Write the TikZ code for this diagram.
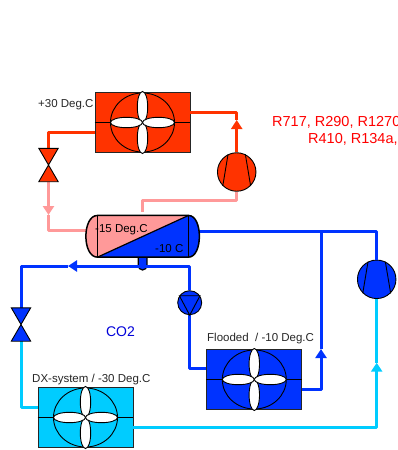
\documentclass[tikz,border=0pt]{standalone}
\usepackage{fontspec}
\setmainfont{Liberation Sans}
\usetikzlibrary{arrows.meta}

\definecolor{hotred}{RGB}{255,51,0}
\definecolor{warmpink}{RGB}{255,153,153}
\definecolor{coolblue}{RGB}{0,51,255}
\definecolor{coldcyan}{RGB}{0,204,255}

\tikzset{
	pipe/.style={line width=3pt,line join=round,>={Triangle[length=9pt,width=11pt]}},
	fanbox/.style={draw=black!85,line width=0.9pt,rectangle,minimum width=95pt,minimum height=60pt,inner sep=0pt},
	compr/.style={draw=black,line width=0.9pt,circle,minimum size=38.5pt,inner sep=0pt},
	pumpc/.style={draw=black,line width=0.9pt,circle,minimum size=24pt,inner sep=0pt},
	valvec/.style={rectangle,minimum width=19pt,minimum height=33pt,inner sep=0pt},
	lbl/.style={font=\fontsize{11.5pt}{13pt}\selectfont,text=black!85,inner sep=0pt}
}

% heat exchanger with fan
\newcommand{\fanparts}[1]{
	\draw[line width=0.9pt] (#1.west) -- (#1.east);
	\draw[line width=0.9pt] (#1.center) ellipse (32pt and 29.5pt);
	\draw[line width=0.9pt,fill=white] ([yshift=15.5pt]#1.center) ellipse (5.2pt and 15.5pt);
	\draw[line width=0.9pt,fill=white] ([yshift=-15.5pt]#1.center) ellipse (5.2pt and 15.5pt);
	\draw[line width=0.9pt,fill=white] ([xshift=16pt]#1.center) ellipse (16pt and 5.2pt);
	\draw[line width=0.9pt,fill=white] ([xshift=-16pt]#1.center) ellipse (16pt and 5.2pt);
}
\newcommand{\comprparts}[1]{
	\draw[line width=0.9pt] (#1.116) -- (#1.225);
	\draw[line width=0.9pt] (#1.64) -- (#1.315);
}
\newcommand{\valveparts}[2]{
	\draw[line width=0.9pt,fill=#2] (#1.north west) -- (#1.north east) -- (#1.south west) -- (#1.south east) -- cycle;
}

\begin{document}
\begin{tikzpicture}[x=1pt,y=-1pt,node distance=113.8pt]

\clip (0,0) rectangle (397,450);

\node[fanbox,fill=hotred]   (cond) at (142.5,122.5) {};
\node[compr,fill=hotred]   (compR) at (236.7,172) {};
\node[valvec]   (valveR) at (48.5,165) {};
\node[rectangle,minimum width=113pt,minimum height=41.3pt,inner sep=0pt]   (rcv)[below of=cond] {};
\node[pumpc,fill=coolblue]   (pump) at (189.7,302.7) {};
\node[valvec]   (valveB) at (21,324.5) {};
\node[fanbox,fill=coolblue]   (flood) at (254.3,379.5) {};
\node[fanbox,fill=coldcyan]   (dx) at (85.5,417.5) {};
\node[compr,fill=coolblue]   (compB) at (376.7,279.3) {};

\coordinate (tipRup) at (236.7,120);
\coordinate (topR) at (236.7,112);
\coordinate (tipPink) at (48.5,215);
\coordinate (tipLeft) at (68,266);
\coordinate (tipFlood) at (321,349);
\coordinate (tipCyan) at (376.7,362.7);
\coordinate (dome) at (142.5,212);
\coordinate (suct) at (321,231.7);
\coordinate (turnR) at (142.5,200.7);

% pipes
\draw[pipe,hotred] ([yshift=10.5pt]cond.east) -- (topR) -- (tipRup);
\draw[pipe,hotred,->] (compR.north) -- (tipRup);
\draw[pipe,hotred] ([yshift=-9.5pt]cond.west) -| (valveR.north);
\draw[pipe,warmpink,->] (valveR.south) -- (tipPink);
\draw[pipe,warmpink] (tipPink) |- ([yshift=6.3pt]rcv.west);
\draw[pipe,warmpink] (compR.south) |- (turnR) -- (dome);
\draw[pipe,coolblue] ([yshift=4.6pt]rcv.east) -| (compB.north);
\draw[pipe,coolblue] (pump.south) |- ([yshift=11.5pt]flood.west);
\draw[pipe,coolblue,->] ([yshift=-9.5pt]flood.east) -| (tipFlood);
\draw[pipe,coolblue] (tipFlood) -- (suct);
\draw[pipe,coldcyan] (valveB.south) |- ([yshift=10.5pt]dx.west);
\draw[pipe,coldcyan,->] ([yshift=-10.2pt]dx.east) -| (tipCyan);
\draw[pipe,coldcyan] (tipCyan) -- (compB.south);

% vessel studs
\draw[line width=0.9pt,fill=warmpink] (137,216) arc (180:0:5.5 and 5.3) -- cycle;
\draw[line width=1.2pt,fill=coolblue] (138.3,257) -- (138.3,265.5) arc (180:0:4.3 and 4.5) -- (147,257) -- cycle;
\draw[pipe,coolblue,->] (pump.north) |- (tipLeft);
\draw[pipe,coolblue] (tipLeft) -| (valveB.north);

% separator vessel
\coordinate (rtl) at ([xshift=11.7pt]rcv.north west);
\coordinate (rbl) at ([xshift=11.7pt]rcv.south west);
\coordinate (rtr) at ([xshift=-10.7pt]rcv.north east);
\coordinate (rbr) at ([xshift=-10.7pt]rcv.south east);
\fill[warmpink] (rbl) .. controls +(-15.5,0) and +(-15.5,0) .. (rtl) -- (rtr) -- cycle;
\fill[coolblue] (rtr) .. controls +(14.5,0) and +(14.5,0) .. (rbr) -- (rbl) -- cycle;
\draw[line width=1.5pt,line join=round] (rbl) .. controls +(-15.5,0) and +(-15.5,0) .. (rtl) -- (rtr) .. controls +(14.5,0) and +(14.5,0) .. (rbr) -- cycle;
\draw[line width=1.2pt] (rtl) -- (rbl);
\draw[line width=1.2pt] (rtr) -- (rbr);
\draw[line width=1.2pt] (rbl) -- (rtr);

\fanparts{cond}
\fanparts{flood}
\fanparts{dx}
\comprparts{compR}
\comprparts{compB}
\valveparts{valveR}{hotred}
\valveparts{valveB}{coolblue}
\draw[line width=0.9pt] (pump.146) -- (pump.34) -- (pump.south) -- cycle;

\node[lbl,anchor=west] (tCond) at (38,104.5) {+30 Deg.C};
\node[lbl,anchor=west,text=black] (tMid) at (95,229.5) {-15 Deg.C};
\node[lbl,anchor=west,text=black] (tLow) at (155,249) {-10 C};
\node[lbl,anchor=west] (tFlood) at (207,338.5) {Flooded~~/ -10 Deg.C};
\node[lbl,anchor=west] (tDx) at (32,379.5) {DX-system / -30 Deg.C};
\node[lbl,anchor=center,text=blue!85!black,font=\fontsize{14pt}{16pt}\selectfont] (tCo) at (120.5,332) {CO2};
\node[lbl,anchor=west,text=red,font=\fontsize{14.5pt}{16pt}\selectfont] (tRefA) at (272,122) {R717, R290, R1270};
\node[lbl,anchor=west,text=red,font=\fontsize{14.5pt}{16pt}\selectfont] (tRefB) at (308,139) {R410, R134a,};

\end{tikzpicture}
\end{document}
